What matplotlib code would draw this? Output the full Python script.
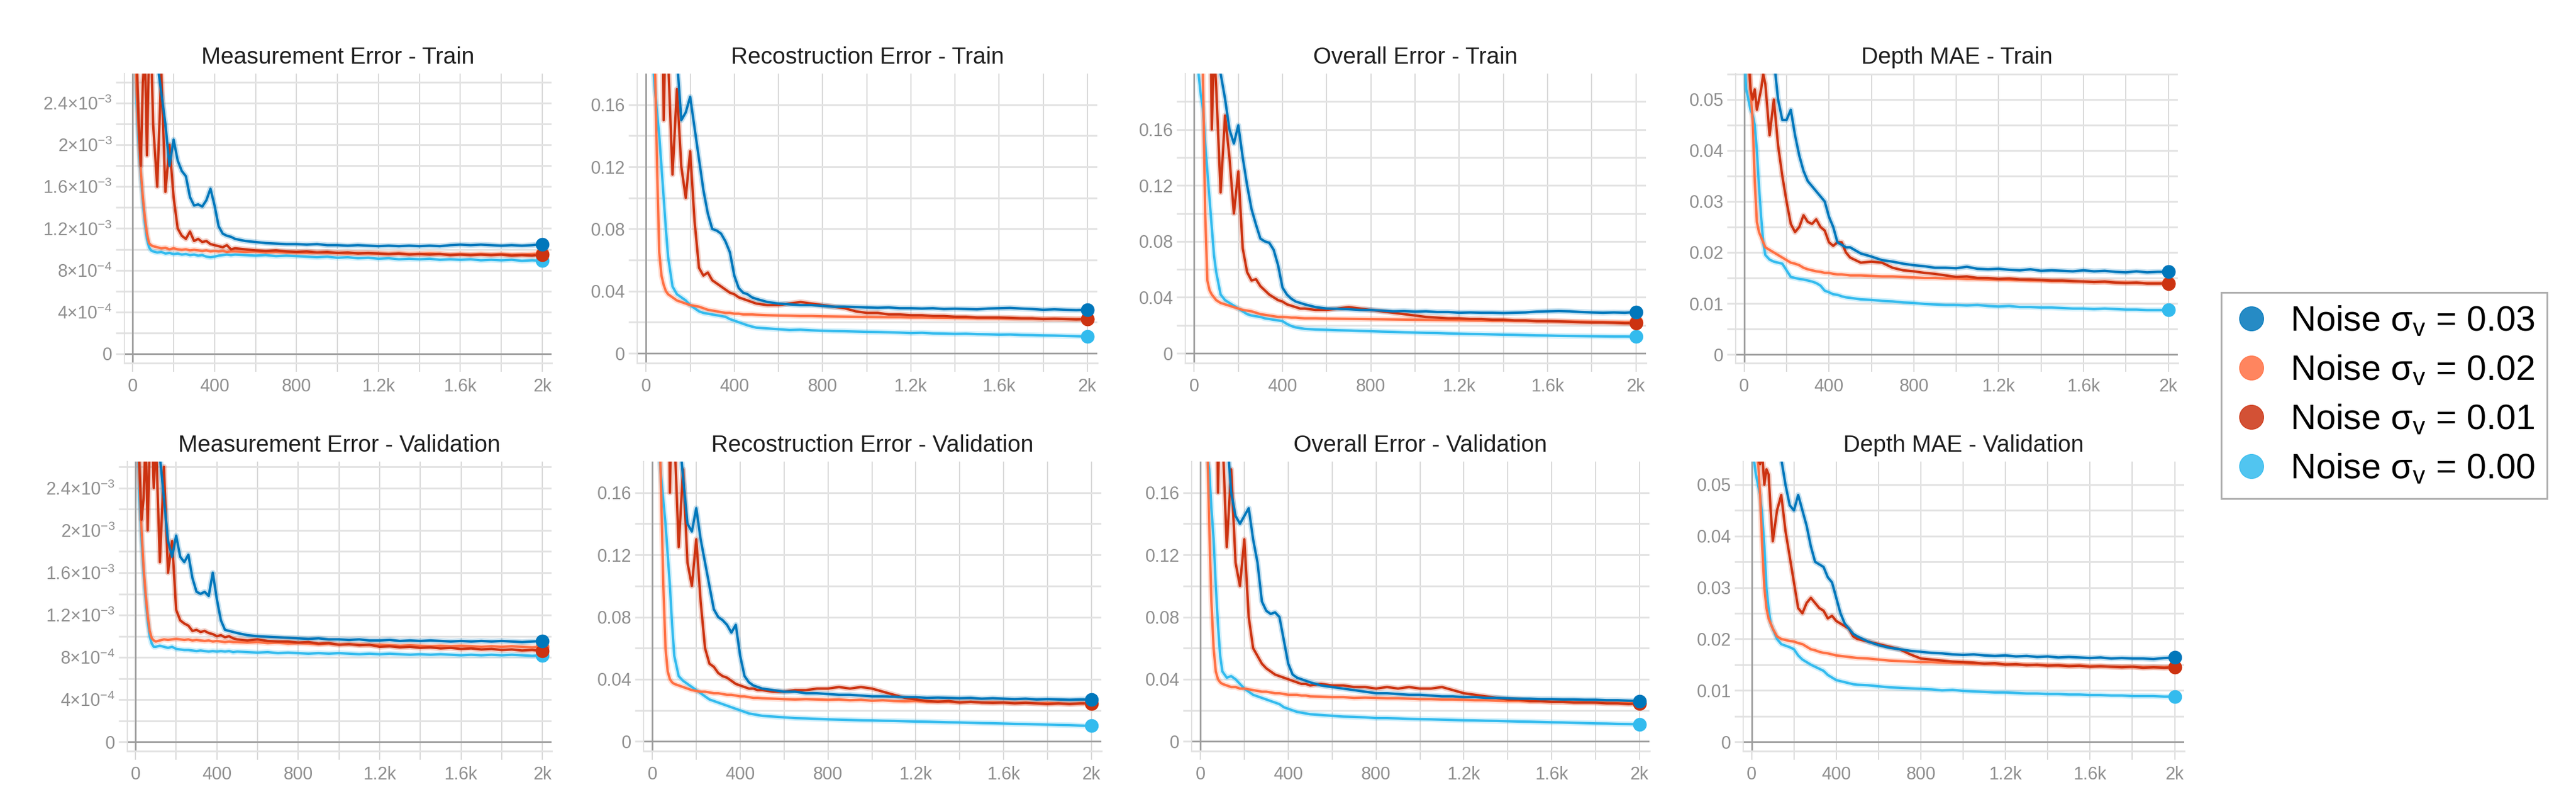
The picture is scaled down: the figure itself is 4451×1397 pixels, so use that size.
import numpy as np
import matplotlib
matplotlib.use("Agg")
import matplotlib.pyplot as plt
from matplotlib.lines import Line2D

plt.rcParams['font.family'] = ['Liberation Sans', 'DejaVu Sans']
plt.rcParams['mathtext.fontset'] = 'custom'
plt.rcParams['mathtext.rm'] = 'Liberation Sans'
plt.rcParams['mathtext.it'] = 'Liberation Sans:italic'
plt.rcParams['mathtext.bf'] = 'Liberation Sans:bold'

# ---------------- data ----------------
steps = [0, 10, 20, 30, 40, 50, 60, 70, 80, 90, 100,
         120, 140, 160, 180, 200, 220, 240, 260, 280, 300, 320, 340, 360, 380, 400, 420, 440, 460, 480, 500,
         550, 600, 650, 700, 750, 800, 850, 900, 950, 1000, 1050, 1100, 1150, 1200, 1250, 1300, 1350, 1400,
         1450, 1500, 1550, 1600, 1650, 1700, 1750, 1800, 1850, 1900, 1950, 2000]

series_labels = ['Noise σ$_\\mathrm{v}$ = 0.03', 'Noise σ$_\\mathrm{v}$ = 0.02',
                 'Noise σ$_\\mathrm{v}$ = 0.01', 'Noise σ$_\\mathrm{v}$ = 0.00']

# Measurement error (values in units of 1e-3)
meas_train_03 = [3.5, 3.4, 3.3, 3.4, 3.2, 3.3, 3.1, 3.2, 3.0, 3.1, 2.95,
                 2.8, 2.5, 2.2, 1.8, 2.05, 1.85, 1.75, 1.7, 1.5, 1.42, 1.43, 1.41, 1.47, 1.58, 1.42, 1.22, 1.15, 1.13, 1.12, 1.1,
                 1.08, 1.07, 1.06, 1.055, 1.05, 1.05, 1.045, 1.05, 1.04, 1.04, 1.035, 1.04, 1.035, 1.03, 1.035, 1.03, 1.035, 1.03,
                 1.035, 1.03, 1.04, 1.045, 1.04, 1.045, 1.04, 1.035, 1.04, 1.035, 1.04, 1.05]
meas_train_02 = [3.5, 3.0, 2.5, 2.1, 1.75, 1.5, 1.3, 1.15, 1.06, 1.04, 1.03,
                 1.02, 1.01, 1.015, 1.0, 1.01, 1.0, 0.995, 1.0, 0.99, 0.995, 0.99, 0.985, 0.99, 0.98, 0.985, 0.98, 0.985, 0.975, 0.98, 0.98,
                 0.975, 0.98, 0.97, 0.975, 0.97, 0.97, 0.965, 0.97, 0.965, 0.965, 0.96, 0.965, 0.96, 0.96, 0.955, 0.96, 0.955, 0.955,
                 0.96, 0.955, 0.95, 0.955, 0.95, 0.955, 0.95, 0.955, 0.95, 0.95, 0.955, 0.96]
meas_train_01 = [3.5, 3.2, 2.8, 2.2, 1.8, 2.6, 2.9, 1.9, 2.9, 3.0, 2.2,
                 1.6, 2.7, 1.55, 2.0, 1.5, 1.2, 1.13, 1.1, 1.17, 1.08, 1.1, 1.07, 1.08, 1.05, 1.04, 1.03, 1.02, 1.04, 1.0, 1.01,
                 1.0, 0.99, 0.985, 0.99, 0.98, 0.975, 0.98, 0.97, 0.975, 0.965, 0.97, 0.96, 0.965, 0.96, 0.955, 0.96, 0.95, 0.955,
                 0.95, 0.955, 0.945, 0.95, 0.945, 0.95, 0.945, 0.95, 0.94, 0.945, 0.94, 0.95]
meas_train_00 = [3.5, 3.0, 2.4, 2.0, 1.7, 1.45, 1.25, 1.1, 1.02, 0.99, 0.98,
                 0.97, 0.975, 0.96, 0.965, 0.955, 0.96, 0.95, 0.955, 0.945, 0.95, 0.94, 0.945, 0.93, 0.925, 0.93, 0.94, 0.945, 0.95, 0.945, 0.95,
                 0.945, 0.94, 0.945, 0.935, 0.94, 0.935, 0.93, 0.925, 0.93, 0.92, 0.925, 0.915, 0.92, 0.91, 0.915, 0.905, 0.91, 0.905,
                 0.91, 0.9, 0.905, 0.9, 0.905, 0.895, 0.9, 0.895, 0.9, 0.89, 0.895, 0.89]

meas_val_03 = [3.5, 3.3, 3.4, 3.2, 3.3, 3.1, 3.2, 3.0, 3.1, 2.9, 3.0,
               2.7, 2.3, 1.9, 1.75, 1.95, 1.75, 1.7, 1.77, 1.55, 1.42, 1.4, 1.42, 1.38, 1.6, 1.35, 1.15, 1.06, 1.05, 1.04, 1.03,
               1.01, 1.0, 0.995, 0.99, 0.985, 0.98, 0.975, 0.98, 0.97, 0.97, 0.965, 0.97, 0.96, 0.96, 0.965, 0.955, 0.96, 0.955,
               0.96, 0.955, 0.95, 0.955, 0.95, 0.955, 0.95, 0.955, 0.95, 0.945, 0.95, 0.955]
meas_val_02 = [3.5, 3.0, 2.5, 2.0, 1.65, 1.4, 1.2, 1.05, 0.98, 0.96, 0.95,
               0.96, 0.97, 0.965, 0.97, 0.975, 0.97, 0.965, 0.97, 0.96, 0.965, 0.96, 0.955, 0.96, 0.95, 0.955, 0.95, 0.945, 0.95, 0.945, 0.945,
               0.94, 0.945, 0.935, 0.94, 0.93, 0.935, 0.93, 0.925, 0.93, 0.92, 0.925, 0.92, 0.915, 0.92, 0.915, 0.91, 0.915, 0.91,
               0.905, 0.91, 0.905, 0.91, 0.905, 0.9, 0.905, 0.9, 0.905, 0.9, 0.895, 0.9]
meas_val_01 = [3.5, 3.0, 2.6, 2.1, 2.3, 2.9, 2.0, 2.8, 3.0, 2.4, 2.9,
               1.7, 2.6, 1.6, 1.9, 1.25, 1.15, 1.12, 1.1, 1.05, 1.06, 1.04, 1.05, 1.03, 1.02, 1.0, 1.01, 0.99, 1.0, 0.98, 0.97,
               0.96, 0.97, 0.955, 0.95, 0.95, 0.94, 0.945, 0.93, 0.935, 0.92, 0.925, 0.915, 0.92, 0.9, 0.905, 0.895, 0.9, 0.89,
               0.895, 0.885, 0.89, 0.88, 0.885, 0.875, 0.88, 0.87, 0.875, 0.865, 0.87, 0.86]
meas_val_00 = [3.5, 3.0, 2.3, 1.9, 1.6, 1.35, 1.15, 1.0, 0.93, 0.9, 0.9,
               0.91, 0.9, 0.89, 0.9, 0.88, 0.875, 0.87, 0.87, 0.865, 0.86, 0.865, 0.86, 0.855, 0.86, 0.855, 0.86, 0.855, 0.86, 0.85, 0.855,
               0.85, 0.845, 0.85, 0.84, 0.845, 0.84, 0.835, 0.84, 0.835, 0.84, 0.835, 0.83, 0.835, 0.83, 0.835, 0.83, 0.825, 0.83,
               0.825, 0.83, 0.825, 0.82, 0.825, 0.82, 0.825, 0.82, 0.825, 0.82, 0.815, 0.82]

# Reconstruction error
rec_train_03 = [0.3, 0.3, 0.29, 0.3, 0.28, 0.29, 0.27, 0.28, 0.26, 0.27, 0.25,
                0.22, 0.19, 0.15, 0.155, 0.165, 0.145, 0.125, 0.105, 0.09, 0.08, 0.079, 0.077, 0.072, 0.065, 0.05, 0.042, 0.039, 0.038, 0.036, 0.035,
                0.033, 0.032, 0.0315, 0.031, 0.031, 0.0305, 0.03, 0.03, 0.0298, 0.0295, 0.0293, 0.0295, 0.029, 0.029, 0.0288, 0.029, 0.0285, 0.0287,
                0.0285, 0.0283, 0.0288, 0.029, 0.0292, 0.0288, 0.0285, 0.028, 0.0283, 0.028, 0.0278, 0.028]
rec_train_02 = [0.5, 0.4, 0.3, 0.24, 0.19, 0.12, 0.065, 0.05, 0.044, 0.04, 0.038,
                0.036, 0.034, 0.033, 0.032, 0.031, 0.0305, 0.03, 0.029, 0.028, 0.0275, 0.027, 0.0265, 0.026, 0.026, 0.0255, 0.0255, 0.025, 0.025, 0.025, 0.0248,
                0.0245, 0.0243, 0.0242, 0.024, 0.024, 0.0238, 0.0237, 0.0236, 0.0235, 0.0234, 0.0233, 0.0232, 0.0232, 0.023, 0.023, 0.0229, 0.0228, 0.0228,
                0.0227, 0.0226, 0.0226, 0.0225, 0.0224, 0.0224, 0.0223, 0.0222, 0.0222, 0.0221, 0.022, 0.022]
rec_train_01 = [0.5, 0.45, 0.4, 0.35, 0.3, 0.32, 0.28, 0.3, 0.15, 0.22, 0.19,
                0.115, 0.17, 0.12, 0.1, 0.13, 0.085, 0.055, 0.05, 0.052, 0.047, 0.045, 0.043, 0.041, 0.039, 0.038, 0.036, 0.035, 0.034, 0.033, 0.032,
                0.031, 0.031, 0.032, 0.033, 0.032, 0.031, 0.03, 0.029, 0.027, 0.026, 0.026, 0.025, 0.025, 0.0245, 0.0245, 0.024, 0.024, 0.0235,
                0.0235, 0.023, 0.023, 0.023, 0.0228, 0.0225, 0.0225, 0.022, 0.0222, 0.022, 0.0218, 0.022]
rec_train_00 = [0.5, 0.35, 0.25, 0.19, 0.17, 0.155, 0.14, 0.12, 0.1, 0.08, 0.062,
                0.043, 0.038, 0.036, 0.034, 0.031, 0.029, 0.027, 0.026, 0.0255, 0.025, 0.0245, 0.024, 0.0235, 0.022, 0.021, 0.02, 0.019, 0.018, 0.0172, 0.0165,
                0.016, 0.0155, 0.015, 0.0152, 0.0148, 0.0145, 0.0143, 0.0142, 0.014, 0.0138, 0.0137, 0.0135, 0.0133, 0.013, 0.0132, 0.0128, 0.0127, 0.0125,
                0.0126, 0.0123, 0.0122, 0.012, 0.0121, 0.0118, 0.0117, 0.0115, 0.0114, 0.0112, 0.011, 0.0108]

rec_val_03 = [0.3, 0.29, 0.3, 0.28, 0.29, 0.27, 0.28, 0.26, 0.27, 0.25, 0.24,
              0.2, 0.17, 0.14, 0.135, 0.15, 0.13, 0.115, 0.1, 0.085, 0.08, 0.078, 0.075, 0.07, 0.075, 0.055, 0.042, 0.038, 0.036, 0.035, 0.034,
              0.033, 0.032, 0.032, 0.031, 0.031, 0.0305, 0.03, 0.03, 0.0295, 0.029, 0.029, 0.0288, 0.0285, 0.0285, 0.028, 0.0282, 0.028, 0.0278,
              0.028, 0.0275, 0.0278, 0.0275, 0.0272, 0.0275, 0.027, 0.0272, 0.027, 0.0268, 0.027, 0.027]
rec_val_02 = [0.5, 0.4, 0.3, 0.22, 0.16, 0.1, 0.06, 0.045, 0.04, 0.038, 0.037,
              0.036, 0.035, 0.034, 0.033, 0.0325, 0.032, 0.032, 0.0315, 0.031, 0.031, 0.0305, 0.03, 0.03, 0.0295, 0.029, 0.029, 0.0285, 0.028, 0.028, 0.0278,
              0.0275, 0.0272, 0.027, 0.0272, 0.027, 0.0268, 0.027, 0.0265, 0.0268, 0.0262, 0.0265, 0.026, 0.0258, 0.026, 0.0255, 0.0258, 0.0255, 0.0252,
              0.0255, 0.025, 0.0252, 0.025, 0.0248, 0.025, 0.0245, 0.0248, 0.0245, 0.0243, 0.0245, 0.0245]
rec_val_01 = [0.5, 0.45, 0.4, 0.33, 0.3, 0.31, 0.28, 0.3, 0.16, 0.23, 0.2,
              0.125, 0.175, 0.115, 0.1, 0.13, 0.09, 0.06, 0.05, 0.048, 0.044, 0.042, 0.041, 0.039, 0.037, 0.036, 0.035, 0.034, 0.034, 0.033, 0.033,
              0.032, 0.032, 0.033, 0.033, 0.034, 0.034, 0.035, 0.034, 0.035, 0.034, 0.032, 0.03, 0.028, 0.027, 0.026, 0.0255, 0.026, 0.025,
              0.0255, 0.025, 0.0248, 0.025, 0.0245, 0.0248, 0.0245, 0.024, 0.0245, 0.024, 0.0245, 0.0245]
rec_val_00 = [0.5, 0.35, 0.25, 0.19, 0.17, 0.155, 0.14, 0.12, 0.1, 0.075, 0.055,
              0.042, 0.039, 0.037, 0.035, 0.033, 0.031, 0.029, 0.027, 0.026, 0.025, 0.024, 0.023, 0.022, 0.021, 0.02, 0.019, 0.018, 0.0175, 0.017, 0.0165,
              0.016, 0.0155, 0.015, 0.0148, 0.0145, 0.0142, 0.014, 0.0138, 0.0136, 0.0135, 0.0133, 0.0132, 0.013, 0.0128, 0.0127, 0.0125, 0.0123, 0.0122,
              0.012, 0.0118, 0.0117, 0.0115, 0.0113, 0.0112, 0.011, 0.0108, 0.0106, 0.0105, 0.0102, 0.01]

# Overall error
ovr_train_03 = [0.3, 0.3, 0.29, 0.3, 0.28, 0.29, 0.27, 0.28, 0.26, 0.25, 0.24,
                0.2, 0.182, 0.16, 0.15, 0.163, 0.14, 0.12, 0.103, 0.092, 0.082, 0.08, 0.079, 0.074, 0.063, 0.047, 0.042, 0.039, 0.037, 0.036, 0.035,
                0.033, 0.032, 0.0318, 0.0315, 0.031, 0.031, 0.0305, 0.03, 0.0302, 0.0298, 0.03, 0.0295, 0.0295, 0.029, 0.0292, 0.029, 0.029, 0.0288,
                0.029, 0.0292, 0.0298, 0.03, 0.0302, 0.03, 0.0295, 0.0292, 0.029, 0.0292, 0.029, 0.0295]
ovr_train_02 = [0.5, 0.4, 0.3, 0.25, 0.2, 0.1, 0.052, 0.045, 0.042, 0.04, 0.038,
                0.036, 0.035, 0.034, 0.033, 0.032, 0.031, 0.0305, 0.03, 0.029, 0.028, 0.0275, 0.027, 0.0265, 0.026, 0.026, 0.0258, 0.0255, 0.0255, 0.0252, 0.025,
                0.025, 0.0248, 0.0247, 0.0246, 0.0245, 0.0244, 0.0243, 0.0242, 0.0241, 0.024, 0.0239, 0.0238, 0.0237, 0.0236, 0.0235, 0.0234, 0.0233, 0.0233,
                0.0232, 0.0231, 0.023, 0.0229, 0.0228, 0.0227, 0.0226, 0.0225, 0.0224, 0.0223, 0.0222, 0.0222]
ovr_train_01 = [0.5, 0.45, 0.4, 0.35, 0.3, 0.32, 0.28, 0.3, 0.16, 0.22, 0.19,
                0.115, 0.17, 0.14, 0.1, 0.13, 0.075, 0.058, 0.052, 0.053, 0.048, 0.045, 0.042, 0.04, 0.038, 0.037, 0.035, 0.034, 0.033, 0.032, 0.032,
                0.031, 0.031, 0.032, 0.033, 0.032, 0.031, 0.03, 0.029, 0.028, 0.027, 0.026, 0.0255, 0.025, 0.025, 0.0245, 0.0245, 0.024, 0.024,
                0.0235, 0.0235, 0.023, 0.023, 0.0228, 0.0225, 0.0222, 0.022, 0.022, 0.0218, 0.0215, 0.0215]
ovr_train_00 = [0.5, 0.3, 0.2, 0.185, 0.175, 0.15, 0.13, 0.11, 0.09, 0.07, 0.058,
                0.042, 0.038, 0.036, 0.034, 0.032, 0.03, 0.028, 0.027, 0.0265, 0.026, 0.025, 0.0245, 0.024, 0.0235, 0.023, 0.021, 0.0195, 0.0185, 0.018, 0.0175,
                0.017, 0.0168, 0.0165, 0.0163, 0.016, 0.0158, 0.0155, 0.0153, 0.015, 0.0148, 0.0146, 0.0145, 0.0142, 0.014, 0.0138, 0.0137, 0.0135, 0.0133,
                0.0132, 0.013, 0.0128, 0.0127, 0.0125, 0.0124, 0.0123, 0.0122, 0.0121, 0.012, 0.012, 0.0119]

ovr_val_03 = [0.3, 0.29, 0.3, 0.28, 0.29, 0.27, 0.28, 0.26, 0.27, 0.25, 0.24,
              0.2, 0.16, 0.145, 0.14, 0.145, 0.15, 0.13, 0.115, 0.09, 0.084, 0.082, 0.083, 0.08, 0.065, 0.05, 0.043, 0.041, 0.04, 0.039, 0.038,
              0.036, 0.035, 0.034, 0.033, 0.032, 0.031, 0.031, 0.0305, 0.03, 0.03, 0.0295, 0.029, 0.029, 0.0285, 0.0285, 0.028, 0.028, 0.0278,
              0.0275, 0.0275, 0.0272, 0.0272, 0.027, 0.027, 0.0268, 0.0268, 0.0265, 0.0265, 0.0262, 0.026]
ovr_val_02 = [0.5, 0.4, 0.3, 0.2, 0.14, 0.09, 0.06, 0.045, 0.04, 0.038, 0.037,
              0.036, 0.035, 0.035, 0.034, 0.034, 0.0335, 0.033, 0.0325, 0.032, 0.032, 0.0315, 0.031, 0.031, 0.0305, 0.03, 0.03, 0.03, 0.0295, 0.0295, 0.029,
              0.0288, 0.0285, 0.0285, 0.028, 0.0282, 0.028, 0.0278, 0.0278, 0.0275, 0.0272, 0.0272, 0.027, 0.027, 0.0268, 0.0265, 0.0265, 0.0262, 0.026,
              0.026, 0.0258, 0.0258, 0.0255, 0.0255, 0.0252, 0.0252, 0.025, 0.025, 0.0248, 0.0248, 0.0248]
ovr_val_01 = [0.5, 0.45, 0.4, 0.33, 0.3, 0.31, 0.28, 0.3, 0.16, 0.23, 0.2,
              0.125, 0.175, 0.115, 0.1, 0.13, 0.08, 0.06, 0.055, 0.05, 0.047, 0.045, 0.043, 0.042, 0.041, 0.04, 0.039, 0.038, 0.037, 0.037, 0.036,
              0.037, 0.036, 0.036, 0.035, 0.035, 0.034, 0.035, 0.034, 0.035, 0.034, 0.034, 0.035, 0.033, 0.031, 0.03, 0.029, 0.028, 0.027,
              0.027, 0.026, 0.026, 0.0255, 0.0255, 0.025, 0.025, 0.025, 0.0245, 0.0245, 0.024, 0.0245]
ovr_val_00 = [0.5, 0.3, 0.2, 0.185, 0.175, 0.15, 0.13, 0.1, 0.075, 0.055, 0.045,
              0.041, 0.042, 0.04, 0.037, 0.034, 0.032, 0.03, 0.029, 0.028, 0.027, 0.026, 0.025, 0.024, 0.022, 0.021, 0.02, 0.019, 0.0185, 0.018, 0.0175,
              0.017, 0.0165, 0.016, 0.0158, 0.0155, 0.015, 0.015, 0.0148, 0.0145, 0.0143, 0.0142, 0.014, 0.0138, 0.0136, 0.0135, 0.0133, 0.0132, 0.013,
              0.0128, 0.0127, 0.0125, 0.0123, 0.0122, 0.012, 0.0118, 0.0116, 0.0115, 0.0113, 0.0112, 0.011]

# Depth MAE
mae_train_03 = [0.07, 0.07, 0.068, 0.07, 0.066, 0.068, 0.065, 0.067, 0.064, 0.066, 0.063,
                0.065, 0.058, 0.05, 0.046, 0.046, 0.048, 0.043, 0.039, 0.036, 0.034, 0.033, 0.032, 0.031, 0.03, 0.027, 0.025, 0.022, 0.0215, 0.021, 0.021,
                0.0198, 0.0192, 0.0185, 0.0182, 0.0178, 0.0175, 0.0173, 0.017, 0.017, 0.0169, 0.0172, 0.0168, 0.0167, 0.0168, 0.0166, 0.0165, 0.0167, 0.0164,
                0.0165, 0.0164, 0.0163, 0.0165, 0.0163, 0.0164, 0.0162, 0.0161, 0.0163, 0.0161, 0.0162, 0.0162]
mae_train_02 = [0.07, 0.065, 0.058, 0.052, 0.046, 0.034, 0.026, 0.024, 0.023, 0.022, 0.021,
                0.0205, 0.02, 0.0195, 0.019, 0.0185, 0.018, 0.0178, 0.0175, 0.017, 0.0167, 0.0165, 0.0163, 0.0162, 0.016, 0.016, 0.0158, 0.0157, 0.0157, 0.0156, 0.0155,
                0.0155, 0.0154, 0.0153, 0.0153, 0.0152, 0.0151, 0.015, 0.015, 0.0149, 0.0149, 0.0148, 0.0148, 0.0147, 0.0147, 0.0146, 0.0146, 0.0145, 0.0145,
                0.0144, 0.0144, 0.0143, 0.0143, 0.0142, 0.0142, 0.0141, 0.0141, 0.014, 0.014, 0.014, 0.014]
mae_train_01 = [0.07, 0.065, 0.06, 0.052, 0.05, 0.052, 0.048, 0.05, 0.052, 0.055, 0.053,
                0.043, 0.05, 0.041, 0.035, 0.03, 0.0256, 0.024, 0.025, 0.0273, 0.026, 0.0256, 0.0265, 0.025, 0.0243, 0.022, 0.0213, 0.022, 0.022, 0.02, 0.019,
                0.018, 0.0182, 0.018, 0.017, 0.0165, 0.0163, 0.016, 0.0158, 0.0155, 0.0152, 0.0153, 0.015, 0.015, 0.0148, 0.0149, 0.0147, 0.0147, 0.0146,
                0.0145, 0.0145, 0.0144, 0.0143, 0.0142, 0.0143, 0.0141, 0.014, 0.0141, 0.0139, 0.0139, 0.0139]
mae_train_00 = [0.06, 0.052, 0.05, 0.048, 0.047, 0.045, 0.04, 0.033, 0.027, 0.022, 0.0195,
                0.0186, 0.0182, 0.018, 0.0178, 0.0165, 0.0152, 0.015, 0.0148, 0.0147, 0.0145, 0.0143, 0.014, 0.0135, 0.0125, 0.0122, 0.0118, 0.0117, 0.0114, 0.0112, 0.0111,
                0.0108, 0.0107, 0.0105, 0.0104, 0.0102, 0.0101, 0.0099, 0.0098, 0.0097, 0.0097, 0.0096, 0.0097, 0.0095, 0.0094, 0.0095, 0.0093, 0.0093, 0.0092,
                0.0092, 0.0091, 0.009, 0.009, 0.0089, 0.009, 0.0089, 0.0088, 0.0088, 0.0087, 0.0087, 0.0087]

mae_val_03 = [0.07, 0.07, 0.068, 0.07, 0.066, 0.068, 0.065, 0.067, 0.064, 0.066, 0.063,
              0.062, 0.055, 0.05, 0.046, 0.045, 0.048, 0.045, 0.042, 0.038, 0.035, 0.0345, 0.034, 0.032, 0.031, 0.028, 0.025, 0.023, 0.022, 0.021, 0.0205,
              0.0195, 0.0188, 0.0183, 0.018, 0.0177, 0.0175, 0.0173, 0.0172, 0.017, 0.0169, 0.017, 0.0168, 0.0167, 0.0168, 0.0166, 0.0167, 0.0165, 0.0166,
              0.0164, 0.0165, 0.0164, 0.0163, 0.0164, 0.0162, 0.0163, 0.0162, 0.0162, 0.0161, 0.0163, 0.0164]
mae_val_02 = [0.07, 0.065, 0.06, 0.055, 0.048, 0.038, 0.03, 0.026, 0.024, 0.023, 0.022,
              0.0205, 0.02, 0.0198, 0.0196, 0.0195, 0.0192, 0.019, 0.0185, 0.018, 0.0178, 0.0175, 0.0173, 0.0172, 0.017, 0.0168, 0.0167, 0.0166, 0.0165, 0.0164, 0.0163,
              0.0162, 0.016, 0.0158, 0.0157, 0.0156, 0.0155, 0.0155, 0.0154, 0.0153, 0.0153, 0.0152, 0.0152, 0.0151, 0.0151, 0.015, 0.015, 0.0149, 0.0149,
              0.0148, 0.0148, 0.0148, 0.0147, 0.0147, 0.0146, 0.0146, 0.0146, 0.0145, 0.0145, 0.0145, 0.0145]
mae_val_01 = [0.07, 0.065, 0.06, 0.055, 0.054, 0.056, 0.05, 0.053, 0.052, 0.045, 0.039,
              0.045, 0.048, 0.041, 0.036, 0.031, 0.026, 0.025, 0.027, 0.028, 0.027, 0.026, 0.0255, 0.024, 0.0245, 0.0235, 0.023, 0.0225, 0.022, 0.0205, 0.02,
              0.0195, 0.019, 0.0185, 0.018, 0.017, 0.0162, 0.016, 0.0158, 0.0156, 0.0155, 0.0154, 0.0152, 0.0153, 0.015, 0.0151, 0.0149, 0.015, 0.0148,
              0.0149, 0.0147, 0.0148, 0.0146, 0.0147, 0.0146, 0.0145, 0.0146, 0.0144, 0.0145, 0.0144, 0.0145]
mae_val_00 = [0.06, 0.055, 0.052, 0.05, 0.048, 0.044, 0.038, 0.03, 0.026, 0.023, 0.022,
              0.02, 0.019, 0.0187, 0.0184, 0.018, 0.0168, 0.016, 0.0155, 0.015, 0.0146, 0.0142, 0.0138, 0.013, 0.0125, 0.012, 0.0118, 0.0116, 0.0114, 0.0112, 0.0111,
              0.011, 0.0108, 0.0106, 0.0105, 0.0104, 0.0103, 0.0102, 0.01, 0.0101, 0.0099, 0.0098, 0.0097, 0.0096, 0.0096, 0.0095, 0.0094, 0.0094, 0.0093,
              0.0093, 0.0092, 0.0092, 0.0091, 0.0091, 0.009, 0.009, 0.0089, 0.0089, 0.0089, 0.0088, 0.0088]

panel_titles = ['Measurement Error - Train', 'Recostruction Error - Train', 'Overall Error - Train', 'Depth MAE - Train',
                'Measurement Error - Validation', 'Recostruction Error - Validation', 'Overall Error - Validation', 'Depth MAE - Validation']

meas_yticks = [0, 0.4e-3, 0.8e-3, 1.2e-3, 1.6e-3, 2.0e-3, 2.4e-3]
meas_yticklabels = ['0', '4×10$^{-4}$', '8×10$^{-4}$', '1.2×10$^{-3}$', '1.6×10$^{-3}$', '2×10$^{-3}$', '2.4×10$^{-3}$']
err_yticks = [0, 0.04, 0.08, 0.12, 0.16]
err_yticklabels = ['0', '0.04', '0.08', '0.12', '0.16']
mae_yticks = [0, 0.01, 0.02, 0.03, 0.04, 0.05]
mae_yticklabels = ['0', '0.01', '0.02', '0.03', '0.04', '0.05']
xticks = [0, 400, 800, 1200, 1600, 2000]
xticklabels = ['0', '400', '800', '1.2k', '1.6k', '2k']

# ---------------- styling / layout ----------------
colors = ['#0077bb', '#ff7043', '#cc3311', '#33bbee']   # 0.03, 0.02, 0.01, 0.00
W, H = 4451, 1397
fig = plt.figure(figsize=(W / 100, H / 100), dpi=100)
fig.patch.set_facecolor('white')

# axes boxes in pixels: (left, top, width, height)
boxes = [(215, 127, 738, 500), (1101, 127, 795, 500), (2048, 127, 796, 500), (2999, 127, 764, 500),
         (220, 797, 733, 500), (1112, 797, 791, 500), (2059, 797, 791, 500), (3012, 797, 762, 500)]

panels = [
    ([np.array(meas_train_03) * 1e-3, np.array(meas_train_02) * 1e-3, np.array(meas_train_01) * 1e-3, np.array(meas_train_00) * 1e-3],
     (-0.089e-3, 2.683e-3), meas_yticks, meas_yticklabels, 0.2e-3),
    ([rec_train_03, rec_train_02, rec_train_01, rec_train_00], (-0.0063, 0.18), err_yticks, err_yticklabels, 0.02),
    ([ovr_train_03, ovr_train_02, ovr_train_01, ovr_train_00], (-0.007, 0.2), err_yticks, err_yticklabels, 0.02),
    ([mae_train_03, mae_train_02, mae_train_01, mae_train_00], (-0.0017, 0.0551), mae_yticks, mae_yticklabels, 0.005),
    ([np.array(meas_val_03) * 1e-3, np.array(meas_val_02) * 1e-3, np.array(meas_val_01) * 1e-3, np.array(meas_val_00) * 1e-3],
     (-0.085e-3, 2.65e-3), meas_yticks, meas_yticklabels, 0.2e-3),
    ([rec_val_03, rec_val_02, rec_val_01, rec_val_00], (-0.0062, 0.18), err_yticks, err_yticklabels, 0.02),
    ([ovr_val_03, ovr_val_02, ovr_val_01, ovr_val_00], (-0.0062, 0.18), err_yticks, err_yticklabels, 0.02),
    ([mae_val_03, mae_val_02, mae_val_01, mae_val_00], (-0.0018, 0.0545), mae_yticks, mae_yticklabels, 0.005),
]

draw_order = [3, 1, 2, 0]
for i, (box, title, (series, ylim, yt, ytl, ystep)) in enumerate(zip(boxes, panel_titles, panels)):
    l, t, w, h = box
    ax = fig.add_axes([l / W, 1 - (t + h) / H, w / W, h / H])
    ax.set_xlim(-40, 2045)
    ax.set_ylim(*ylim)
    ax.set_xticks(xticks)
    ax.set_xticklabels(xticklabels)
    ax.set_xticks([200, 600, 1000, 1400, 1800], minor=True)
    ax.set_yticks(yt)
    ax.set_yticklabels(ytl)
    ax.set_yticks(np.arange(ystep, ylim[1], ystep * 2), minor=True)
    ax.grid(axis='x', which='both', color='#d9d9d9', lw=1.5, zorder=0)
    ax.grid(axis='y', which='both', color='#e3e3e3', lw=2.3, zorder=0)
    ax.set_axisbelow(True)
    ax.tick_params(axis='x', which='both', length=11, width=1.5, color='#d9d9d9',
                   labelsize=22, labelcolor='#8f8f8f', pad=8)
    ax.tick_params(axis='y', which='both', length=11, width=2.3, color='#e3e3e3',
                   labelsize=22, labelcolor='#8f8f8f', pad=4)
    for s in ['top', 'right']:
        ax.spines[s].set_visible(False)
    ax.spines['left'].set_color('#e0e0e0')
    ax.spines['left'].set_linewidth(1.5)
    ax.spines['bottom'].set_color('#e3e3e3')
    ax.spines['bottom'].set_linewidth(2.3)
    ax.axhline(0, color='#9d9d9d', lw=2.0, zorder=2)
    ax.axvline(0, color='#9d9d9d', lw=2.0, zorder=2)
    for k in draw_order:
        y = np.asarray(series[k], dtype=float)
        ax.plot(steps, y, color=colors[k], lw=7, alpha=0.22, zorder=3, solid_joinstyle='round')
        ax.plot(steps, y, color=colors[k], lw=3.0, zorder=4, solid_joinstyle='round')
        ax.plot(steps[-1:], y[-1:], 'o', ms=16, color=colors[k], zorder=5, clip_on=False)
    ax.set_title(title, fontsize=29, color='#1f1f1f', pad=12)

handles = [Line2D([], [], ls='none', marker='o', ms=30, color=c, alpha=0.85) for c in colors]
leg = fig.legend(handles, series_labels, loc='upper left', bbox_to_anchor=(3838 / W, 1 - 505 / H),
                 frameon=True, fancybox=False, fontsize=44, labelspacing=0.45, borderpad=0.35,
                 handlelength=1.0, handletextpad=0.6, borderaxespad=0)
leg.get_frame().set_edgecolor('#9a9a9a')
leg.get_frame().set_linewidth(2.2)

fig.savefig('out.png', dpi=100, facecolor='white')
